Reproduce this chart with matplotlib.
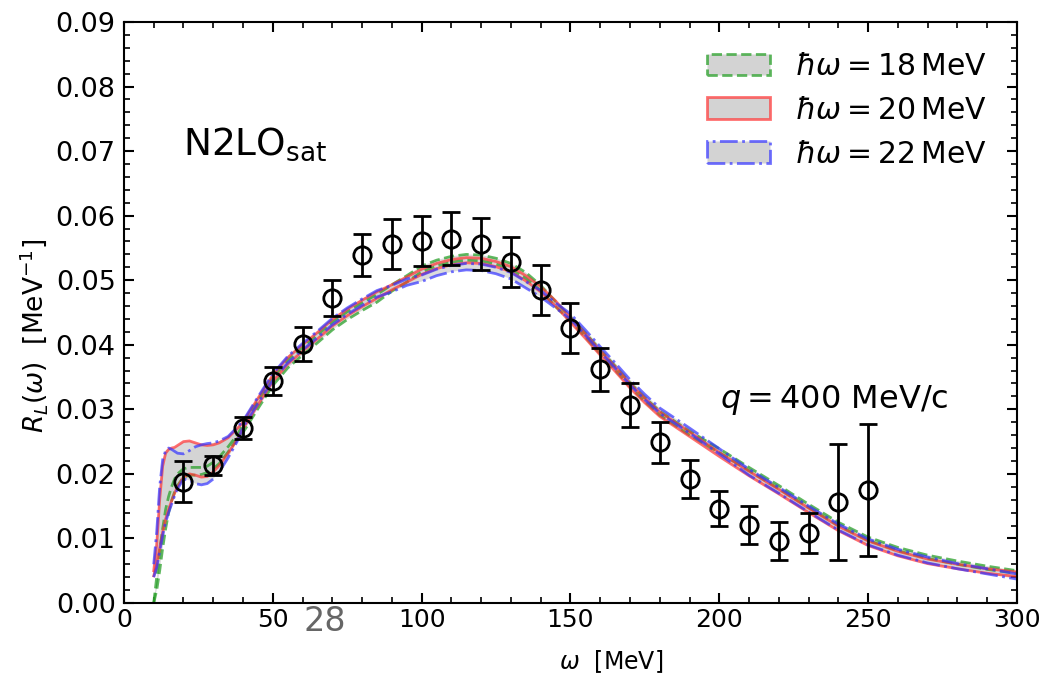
import numpy as np
import matplotlib
matplotlib.use("Agg")
import matplotlib.pyplot as plt
from matplotlib.patches import Patch
from matplotlib.ticker import MultipleLocator

# Energy transfer grid (MeV) on which the theory bands are tabulated
omega = [10, 11, 12, 13, 14, 15, 16, 17, 18, 20, 22, 24, 26, 28, 30, 32, 35, 38,
         40, 45, 50, 55, 60, 65, 70, 75, 80, 85, 90, 95, 100, 105, 110, 115,
         120, 125, 130, 135, 140, 145, 150, 155, 160, 165, 170, 175, 180, 190,
         200, 210, 220, 230, 240, 250, 260, 270, 280, 290, 300]

# hbar*omega = 18 MeV band
hw18_upper = [0.0000, 0.0040, 0.0080, 0.0115, 0.0145, 0.0165, 0.0180, 0.0192, 0.0200,
              0.0208, 0.0210, 0.0210, 0.0210, 0.0212, 0.0218, 0.0226, 0.0242, 0.0260,
              0.0276, 0.0313, 0.0349, 0.0376, 0.0396, 0.0415, 0.0435, 0.0451, 0.0465,
              0.0478, 0.0493, 0.0507, 0.0522, 0.0531, 0.0537, 0.0540, 0.0539, 0.0534,
              0.0526, 0.0512, 0.0492, 0.0467, 0.0443, 0.0418, 0.0392, 0.0367, 0.0341,
              0.0318, 0.0297, 0.0266, 0.0239, 0.0210, 0.0182, 0.0153, 0.0125, 0.0102,
              0.0086, 0.0074, 0.0065, 0.0057, 0.0050]
hw18_lower = [0.0000, 0.0020, 0.0050, 0.0085, 0.0115, 0.0140, 0.0158, 0.0172, 0.0182,
              0.0195, 0.0198, 0.0198, 0.0199, 0.0202, 0.0208, 0.0216, 0.0234, 0.0254,
              0.0264, 0.0301, 0.0337, 0.0364, 0.0384, 0.0403, 0.0423, 0.0439, 0.0453,
              0.0466, 0.0483, 0.0497, 0.0513, 0.0522, 0.0528, 0.0531, 0.0530, 0.0525,
              0.0517, 0.0503, 0.0484, 0.0459, 0.0437, 0.0412, 0.0386, 0.0361, 0.0335,
              0.0312, 0.0291, 0.0260, 0.0233, 0.0205, 0.0177, 0.0148, 0.0120, 0.0097,
              0.0081, 0.0069, 0.0060, 0.0052, 0.0046]

# hbar*omega = 20 MeV band
hw20_upper = [0.0050, 0.0090, 0.0160, 0.0212, 0.0232, 0.0238, 0.0240, 0.0241, 0.0244,
              0.0250, 0.0251, 0.0248, 0.0245, 0.0244, 0.0245, 0.0248, 0.0256, 0.0270,
              0.0280, 0.0317, 0.0353, 0.0380, 0.0400, 0.0419, 0.0439, 0.0455, 0.0469,
              0.0482, 0.0493, 0.0505, 0.0517, 0.0526, 0.0532, 0.0535, 0.0534, 0.0529,
              0.0521, 0.0507, 0.0490, 0.0468, 0.0442, 0.0417, 0.0391, 0.0366, 0.0340,
              0.0317, 0.0296, 0.0265, 0.0233, 0.0204, 0.0176, 0.0147, 0.0119, 0.0096,
              0.0080, 0.0068, 0.0060, 0.0053, 0.0048]
hw20_lower = [0.0042, 0.0060, 0.0085, 0.0110, 0.0130, 0.0145, 0.0158, 0.0170, 0.0180,
              0.0195, 0.0200, 0.0198, 0.0195, 0.0196, 0.0203, 0.0213, 0.0232, 0.0253,
              0.0270, 0.0307, 0.0343, 0.0370, 0.0390, 0.0409, 0.0429, 0.0445, 0.0459,
              0.0472, 0.0485, 0.0497, 0.0509, 0.0518, 0.0524, 0.0527, 0.0526, 0.0521,
              0.0513, 0.0499, 0.0482, 0.0460, 0.0435, 0.0410, 0.0384, 0.0359, 0.0333,
              0.0310, 0.0289, 0.0258, 0.0227, 0.0197, 0.0169, 0.0140, 0.0112, 0.0089,
              0.0073, 0.0061, 0.0053, 0.0046, 0.0041]

# hbar*omega = 22 MeV band
hw22_upper = [0.0060, 0.0110, 0.0180, 0.0222, 0.0236, 0.0240, 0.0238, 0.0235, 0.0232,
              0.0231, 0.0236, 0.0242, 0.0245, 0.0247, 0.0248, 0.0251, 0.0258, 0.0272,
              0.0282, 0.0319, 0.0355, 0.0382, 0.0402, 0.0421, 0.0441, 0.0457, 0.0471,
              0.0484, 0.0492, 0.0502, 0.0508, 0.0517, 0.0523, 0.0526, 0.0525, 0.0520,
              0.0512, 0.0498, 0.0484, 0.0465, 0.0448, 0.0423, 0.0397, 0.0372, 0.0346,
              0.0323, 0.0302, 0.0271, 0.0239, 0.0207, 0.0179, 0.0150, 0.0122, 0.0099,
              0.0083, 0.0071, 0.0061, 0.0053, 0.0045]
hw22_lower = [0.0040, 0.0055, 0.0080, 0.0105, 0.0125, 0.0140, 0.0153, 0.0166, 0.0177,
              0.0192, 0.0190, 0.0185, 0.0183, 0.0185, 0.0192, 0.0203, 0.0225, 0.0250,
              0.0272, 0.0309, 0.0345, 0.0372, 0.0392, 0.0411, 0.0431, 0.0447, 0.0461,
              0.0474, 0.0482, 0.0492, 0.0498, 0.0507, 0.0513, 0.0516, 0.0515, 0.0510,
              0.0502, 0.0488, 0.0474, 0.0457, 0.0440, 0.0415, 0.0389, 0.0364, 0.0338,
              0.0315, 0.0294, 0.0263, 0.0231, 0.0198, 0.0170, 0.0141, 0.0113, 0.0090,
              0.0074, 0.0062, 0.0053, 0.0045, 0.0037]

# Experimental longitudinal response with uncertainties
exp_omega = [20, 30, 40, 50, 60, 70, 80, 90, 100, 110, 120, 130, 140, 150, 160,
             170, 180, 190, 200, 210, 220, 230, 240, 250]
exp_RL = [0.0188, 0.0213, 0.0271, 0.0344, 0.0401, 0.0472, 0.0539, 0.0556, 0.0561,
          0.0564, 0.0556, 0.0528, 0.0485, 0.0426, 0.0362, 0.0307, 0.0249, 0.0192,
          0.0146, 0.0121, 0.0096, 0.0108, 0.0156, 0.0175]
exp_err = [0.0032, 0.0015, 0.0017, 0.0022, 0.0026, 0.0028, 0.0033, 0.0039, 0.0039,
           0.0041, 0.0040, 0.0039, 0.0039, 0.0038, 0.0033, 0.0034, 0.0032, 0.0030,
           0.0027, 0.0029, 0.0029, 0.0031, 0.0090, 0.0102]

band_labels = [r'$\hbar\omega = 18\,\mathrm{MeV}$',
               r'$\hbar\omega = 20\,\mathrm{MeV}$',
               r'$\hbar\omega = 22\,\mathrm{MeV}$']

bands = [(hw18_lower, hw18_upper, (0.17, 0.63, 0.17, 0.75), '--'),
         (hw20_lower, hw20_upper, (1.0, 0.2, 0.2, 0.7), '-'),
         (hw22_lower, hw22_upper, (0.2, 0.2, 1.0, 0.7), '-.')]

fig = plt.figure(figsize=(10.47, 6.75), dpi=100)
ax = fig.add_axes([0.1184, 0.1067, 0.8529, 0.8607])

handles = []
for (lo, hi, col, ls), lab in zip(bands, band_labels):
    ax.fill_between(omega, lo, hi, facecolor='lightgray', edgecolor='none', alpha=0.8)
    ax.plot(omega, lo, color=col, ls=ls, lw=2)
    ax.plot(omega, hi, color=col, ls=ls, lw=2)
    handles.append(Patch(facecolor='lightgray', edgecolor=col, linestyle=ls,
                         linewidth=2, label=lab))

ax.errorbar(exp_omega, exp_RL, yerr=exp_err, fmt='o', mfc='none', mec='black',
            ms=12.5, mew=2, ecolor='black', elinewidth=2, capsize=6.5, capthick=2,
            zorder=5)

ax.set_xlim(0, 300)
ax.set_ylim(0, 0.09)
ax.xaxis.set_major_locator(MultipleLocator(50))
ax.xaxis.set_minor_locator(MultipleLocator(10))
ax.yaxis.set_major_locator(MultipleLocator(0.01))
ax.yaxis.set_minor_locator(MultipleLocator(0.002))
ax.yaxis.set_major_formatter(plt.FormatStrFormatter('%.2f'))
ax.tick_params(which='both', direction='in', top=True, right=True)
ax.tick_params(axis='x', labelsize=18)
ax.tick_params(axis='y', labelsize=19.5, pad=6)
ax.tick_params(which='major', length=7, width=1.5)
ax.tick_params(which='minor', length=4, width=1.2)
for sp in ax.spines.values():
    sp.set_linewidth(1.5)

ax.set_xlabel(r'$\omega$  [MeV]', fontsize=17, va='top')
ax.xaxis.set_label_coords(0.546, -0.078)
ax.set_ylabel(r'$R_L(\omega)$  [MeV$^{-1}$]', fontsize=19, va='center')
ax.yaxis.set_label_coords(-0.101, 0.46)

ax.text(0.066, 0.79, r'N2LO$_{\mathrm{sat}}$', transform=ax.transAxes,
        fontsize=27, va='center', ha='left')
ax.text(0.667, 0.35, r'$q = 400$ MeV/c', transform=ax.transAxes,
        fontsize=23, va='center', ha='left')

ax.legend(handles=handles, loc='upper right', frameon=False, fontsize=21.5,
          handlelength=2.1, handleheight=0.75, labelspacing=0.5,
          borderaxespad=0.6, handletextpad=0.85)

fig.text(0.31, 0.079, '28', fontsize=24, color='0.4', ha='center', va='center')

fig.savefig('out.png', dpi=100)
